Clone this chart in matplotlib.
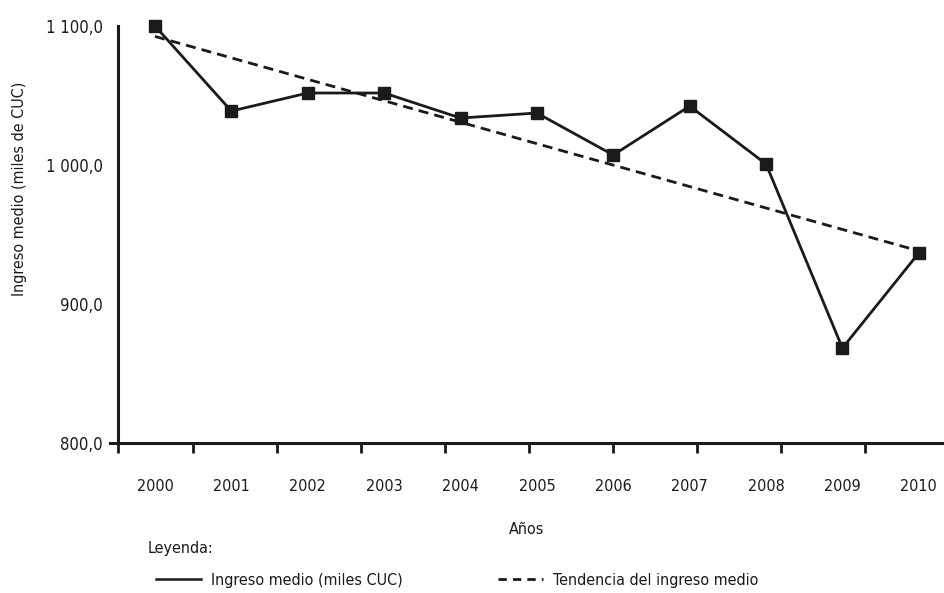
import numpy as np
import matplotlib.pyplot as plt
from matplotlib.lines import Line2D
from matplotlib.ticker import FuncFormatter

plt.rcParams['font.family'] = ['DejaVu Sans']
plt.rcParams['font.stretch'] = 'condensed'

years = ['2000', '2001', '2002', '2003', '2004', '2005',
         '2006', '2007', '2008', '2009', '2010']
ingreso = [1100.0, 1038.8, 1051.8, 1051.8, 1033.8, 1037.4,
           1007.2, 1042.4, 1000.7, 868.3, 936.7]

x = np.arange(len(years))
slope, inter = np.polyfit(x, ingreso, 1)
tendencia = slope * x + inter

col = '#1a1a1a'
fs = 11.5
fig = plt.figure(figsize=(9.44, 5.93), dpi=100)
ax = fig.add_axes([110 / 944, 1 - 443 / 593, 1 - 110 / 944, (443 - 26) / 593])

ax.plot(x, ingreso, '-', color=col, lw=2, marker='s', ms=8.5,
        clip_on=False, zorder=3)
ax.plot(x, tendencia, '--', color=col, lw=2, dashes=(3.6, 2.2), zorder=2)

ax.set_xlim(-0.589, 10.33)
ax.set_ylim(800, 1100)
ax.spines['left'].set_position(('data', -0.484))
for s in ['top', 'right']:
    ax.spines[s].set_visible(False)
for s in ['left', 'bottom']:
    ax.spines[s].set_linewidth(2.2)
    ax.spines[s].set_color(col)

ax.set_yticks([800, 900, 1000, 1100])
ax.yaxis.set_major_formatter(FuncFormatter(
    lambda v, p: f'{v:,.1f}'.replace(',', ' ').replace('.', ',')))
ax.tick_params(axis='y', length=0, pad=11, labelsize=fs + 0.5, colors=col)

# category labels
ax.set_xticks(x)
ax.set_xticklabels(years)
ax.tick_params(axis='x', length=0, pad=26, labelsize=fs, colors=col)
# tick marks along the category axis
ax.xaxis.remove_overlapping_locs = False
ax.set_xticks([-0.484] + list(0.5 + 1.1 * np.arange(9)), minor=True)
ax.tick_params(axis='x', which='minor', length=7, width=2, color=col)

ax.set_xlabel('Años', fontsize=fs, color=col, labelpad=20)
ax.set_ylabel('Ingreso medio (miles de CUC)', fontsize=fs, color=col)
ax.yaxis.set_label_coords(-0.1, 0.61)

fig.text(148 / 944, 1 - 548 / 593, 'Leyenda:', fontsize=fs, color=col,
         va='center')
handles = [Line2D([], [], color=col, lw=1.8),
           Line2D([], [], color=col, lw=2, ls='--', dashes=(3, 2.2))]
fig.legend(handles, ['Ingreso medio (miles CUC)', 'Tendencia del ingreso medio'],
           loc='center left', bbox_to_anchor=(142 / 944, 1 - 580 / 593),
           ncol=2, frameon=False, fontsize=fs, handlelength=2.8,
           columnspacing=6.0, handletextpad=0.6, labelcolor=col)

fig.savefig('out.png', dpi=100)
